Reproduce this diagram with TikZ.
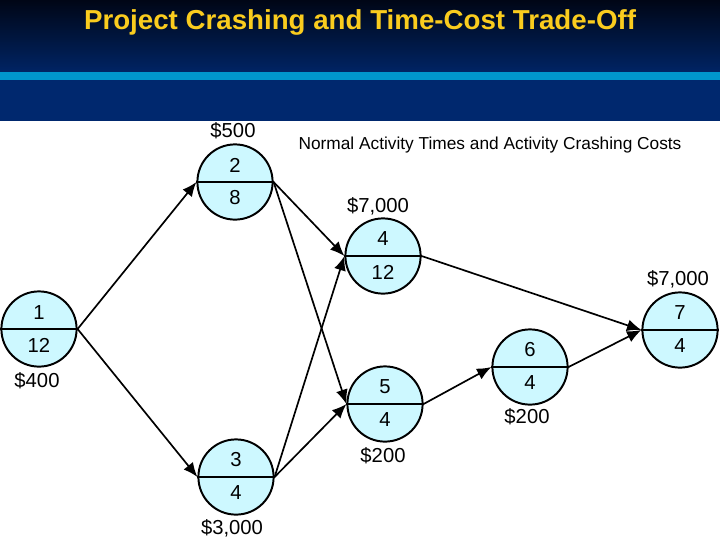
\documentclass[tikz,border=0pt]{standalone}
\usepackage{fontspec}
\setmainfont{Liberation Sans}
\usetikzlibrary{arrows.meta}
\definecolor{nodefill}{RGB}{205,248,255}
\definecolor{titleyellow}{RGB}{250,204,30}
\definecolor{headtop}{RGB}{0,6,22}
\definecolor{headbottom}{RGB}{0,36,100}
\definecolor{stripe}{RGB}{0,150,205}
\definecolor{band}{RGB}{0,40,110}
\begin{document}
\begin{tikzpicture}[x=0.025cm,y=-0.025cm]
  \tikzstyle{vertex}=[circle,draw,line width=1.4pt,fill=nodefill,minimum
  size=1.88cm,inner sep=0pt]
  \tikzstyle{num}=[font=\fontsize{14.4}{16}\selectfont,inner sep=0pt]
  \tikzstyle{split}=[draw,line width=1.4pt]
  \tikzstyle{edge}=[draw,line width=1.2pt,-{Latex[length=3.6mm,width=3mm]}]
  % header
  \useasboundingbox (0,0) rectangle (720,540);
  \fill[white] (0,0) rectangle (720,540);
  \shade[top color=headtop,bottom color=headbottom] (0,0) rectangle (720,72);
  \fill[stripe] (0,72) rectangle (720,80);
  \fill[band] (0,80) rectangle (720,121);
  \node[text=titleyellow,font=\fontsize{19.5}{22}\selectfont\bfseries,xscale=1.01](title) at (360,22){Project Crashing and Time-Cost Trade-Off};
  \node[font=\fontsize{12.3}{14}\selectfont](caption) at (490,145){Normal Activity Times and Activity Crashing Costs};
  % activities
  \node[vertex](A) at ( 39,329){};
  \node[vertex](B) at (235,182){};
  \node[vertex](C) at (236,477){};
  \node[vertex](D) at (383,256){};
  \node[vertex](E) at (385,404){};
  \node[vertex](F) at (530,367){};
  \node[vertex](G) at (680,330){};
  \path[split] (A.west) -- (A.east);
  \path[split] (B.west) -- (B.east);
  \path[split] (C.west) -- (C.east);
  \path[split] (D.west) -- (D.east);
  \path[split] (E.west) -- (E.east);
  \path[split] (F.west) -- (F.east);
  \path[split] (G.west) -- (G.east);
  \node[num](A1) at ( 39,313){1};
  \node[num](A2) at ( 39,345){12};
  \node[num](B1) at (235,165){2};
  \node[num](B2) at (235,198){8};
  \node[num](C1) at (236,460){3};
  \node[num](C2) at (236,493){4};
  \node[num](D1) at (383,239){4};
  \node[num](D2) at (383,272){12};
  \node[num](E1) at (385,387){5};
  \node[num](E2) at (385,420){4};
  \node[num](F1) at (530,350){6};
  \node[num](F2) at (530,383){4};
  \node[num](G1) at (680,313){7};
  \node[num](G2) at (680,346){4};
  % crashing costs
  \node[num](Acost) at ( 37,381){\$400};
  \node[num](Bcost) at (233,131){\$500};
  \node[num](Ccost) at (232,528){\$3,000};
  \node[num](Dcost) at (378,206){\$7,000};
  \node[num](Ecost) at (383,456){\$200};
  \node[num](Fcost) at (527,417){\$200};
  \node[num](Gcost) at (678,279){\$7,000};
  \path[edge] (A.east) -- (B.west);
  \path[edge] (A.east) -- (C.west);
  \path[edge] (B.east) -- (D.west);
  \path[edge] (B.east) -- (E.west);
  \path[edge] (C.east) -- (D.west);
  \path[edge] (C.east) -- (E.west);
  \path[edge] (D.east) -- (G.west);
  \path[edge] (E.east) -- (F.west);
  \path[edge] (F.east) -- (G.west);
\end{tikzpicture}
\end{document}
